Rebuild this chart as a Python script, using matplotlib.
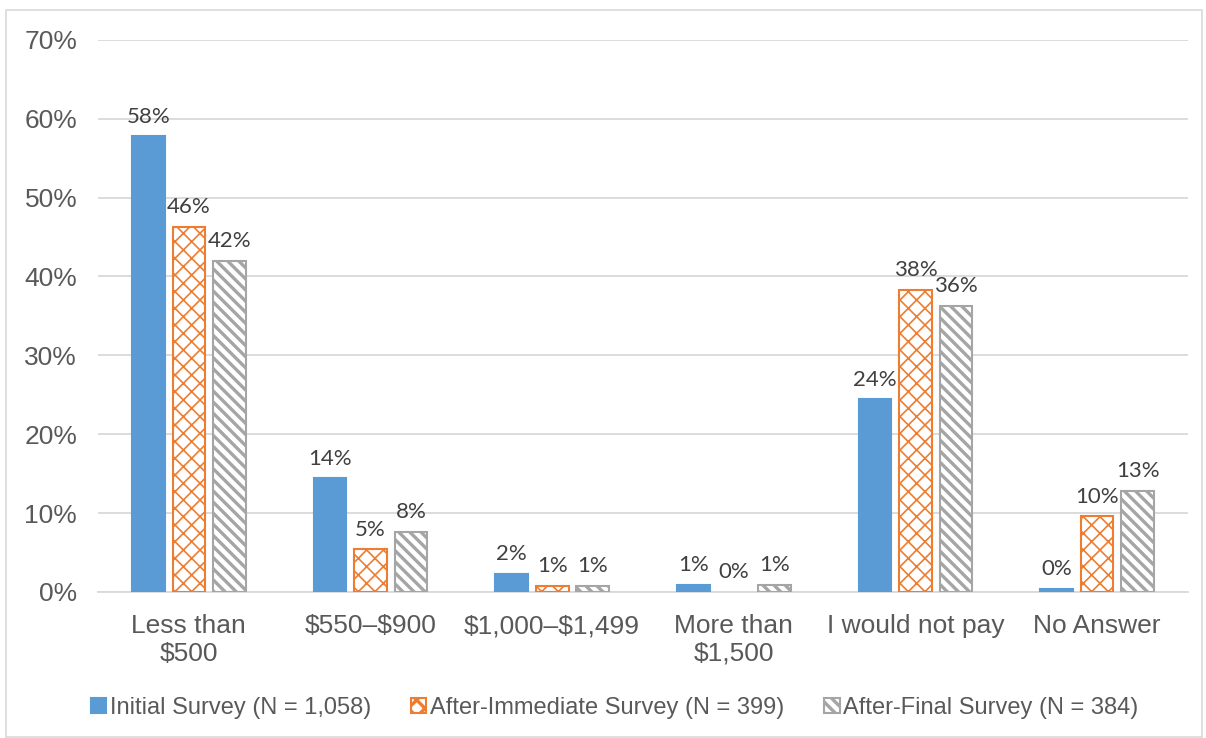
import matplotlib.pyplot as plt
import numpy as np
from matplotlib.patches import Rectangle

categories = ["Less than\n\\$500", "\\$550\u2013\\$900", "\\$1,000\u2013\\$1,499",
              "More than\n\\$1,500", "I would not pay", "No Answer"]
initial = [57.8, 14.4, 2.3, 0.9, 24.4, 0.4]
immediate = [46.3, 5.4, 0.8, 0.0, 38.3, 9.6]
final = [42.0, 7.6, 0.8, 0.9, 36.3, 12.8]
series_names = ["Initial Survey (N = 1,058)",
                "After-Immediate Survey (N = 399)",
                "After-Final Survey (N = 384)"]

plt.rcParams['font.family'] = ['Liberation Sans', 'DejaVu Sans']

fig = plt.figure(figsize=(12.06, 7.38), dpi=100)
ax = fig.add_axes([0.0813, 0.198, 0.9037, 0.748])

# outer chart border
fig.patches.append(Rectangle((0.005, 0.002), 0.992, 0.984, transform=fig.transFigure,
                             fill=False, edgecolor="#d9d9d9", linewidth=1.2))

x = np.arange(len(categories))
w = 0.18
step = 0.223
styles = [
    dict(color="#5B9BD5", edgecolor="#5B9BD5", hatch=None, hlw=1.0),
    dict(color="white", edgecolor="#ED7D31", hatch="xx", hlw=1.2),
    dict(color="white", edgecolor="#A5A5A5", hatch="\\\\\\", hlw=2.4),
]
handles = []
for i, (vals, st) in enumerate(zip([initial, immediate, final], styles)):
    plt.rcParams['hatch.linewidth'] = st["hlw"]
    bars = ax.bar(x + (i - 1) * step, vals, w, color=st["color"],
                  edgecolor=st["edgecolor"], hatch=st["hatch"], linewidth=1.5,
                  label=series_names[i], zorder=3)
    for b, v in zip(bars, vals):
        if v == 0:
            b.set_visible(False)
    handles.append(bars)
    for xi, v in zip(x + (i - 1) * step, vals):
        ax.text(xi, v + 1.2, "{:.0f}%".format(v), ha="center", va="bottom",
                fontsize=16, color="#404040", family=["Lato", "DejaVu Sans"])

ax.set_xlim(-0.5, len(categories) - 0.5)
ax.set_ylim(0, 70)
ax.set_yticks(np.arange(0, 71, 10))
ax.set_yticklabels(["{}%".format(t) for t in range(0, 71, 10)])
ax.set_xticks(x)
ax.set_xticklabels(categories)
ax.tick_params(axis="both", length=0, labelsize=19, colors="#595959")
ax.tick_params(axis="y", pad=15)
ax.tick_params(axis="x", pad=16)
ax.grid(axis="y", color="#d9d9d9", linewidth=1.3, zorder=0)
for s in ["top", "right", "left"]:
    ax.spines[s].set_visible(False)
ax.spines["bottom"].set_color("#d9d9d9")
ax.spines["bottom"].set_linewidth(1.3)

ax.legend(handles=handles, loc="center", bbox_to_anchor=(0.474, -0.21), ncol=3,
          frameon=False, fontsize=17, handlelength=0.65, handleheight=0.65,
          handletextpad=0.15, columnspacing=1.7, labelcolor="#595959")

fig.savefig("out.png", dpi=100)
